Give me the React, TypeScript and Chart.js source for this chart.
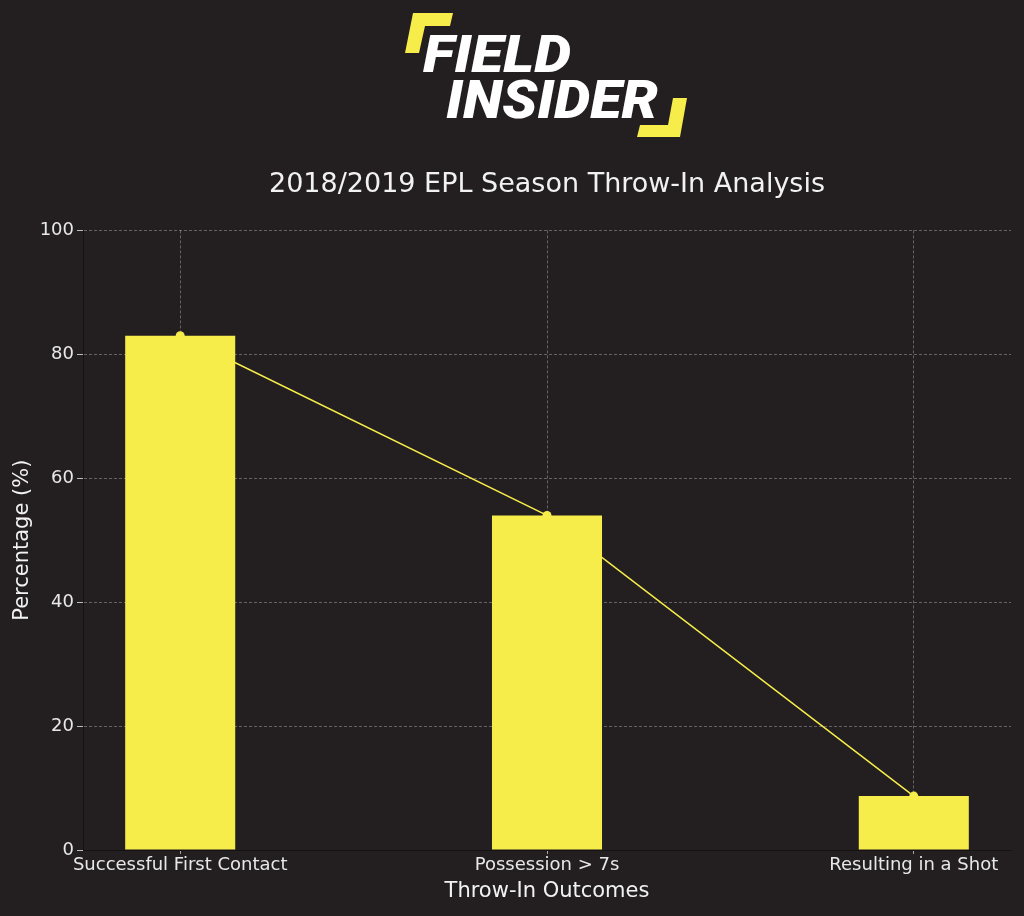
import React, { useEffect, useRef } from "react";
import { Chart, registerables } from "chart.js";

Chart.register(...registerables);

const categories = ["Successful First Contact", "Possession > 7s", "Resulting in a Shot"];
const percentages = [83, 54, 8.7];
const yTicks = [0, 20, 40, 60, 80, 100];

const BG = "#231f20";
const YELLOW = "#f6ec4a";
const FONT = "\"DejaVu Sans\"";

export default function App() {
  const canvasRef = useRef<HTMLCanvasElement | null>(null);

  useEffect(() => {
    if (!canvasRef.current) return;
    Chart.defaults.font.family = FONT;
    const points = percentages.map((v, i) => ({ x: i, y: v }));
    const chart = new Chart(canvasRef.current, {
      type: "bar",
      data: {
        datasets: [
          {
            type: "line",
            data: points,
            borderColor: YELLOW,
            backgroundColor: YELLOW,
            borderWidth: 1.5,
            pointRadius: 4.5,
            pointBorderWidth: 0,
            pointBackgroundColor: YELLOW,
            order: 0,
          } as any,
          {
            type: "bar",
            data: points,
            backgroundColor: YELLOW,
            borderWidth: 0,
            categoryPercentage: 1,
            barPercentage: 0.3,
            order: 1,
          } as any,
        ],
      },
      options: {
        animation: false,
        responsive: true,
        maintainAspectRatio: false,
        layout: { padding: { right: 13, left: 0, top: 0, bottom: 0 } },
        plugins: {
          legend: { display: false },
          tooltip: { enabled: false },
          title: {
            display: true,
            text: "2018/2019 EPL Season Throw-In Analysis",
            color: "#f2f2f2",
            fullSize: false,
            font: { family: FONT, size: 27, weight: "normal" },
            padding: { top: 19, bottom: 29 },
          } as any,
        },
        scales: {
          x: {
            type: "linear",
            min: -0.265,
            max: 2.265,
            offset: false,
            z: 1,
            afterBuildTicks: (scale: any) => {
              scale.ticks = categories.map((_, i) => ({ value: i }));
            },
            afterFit: (scale: any) => {
              scale.height = 66;
            },
            ticks: {
              autoSkip: false,
              maxRotation: 0,
              minRotation: 0,
              color: "#e8e8e8",
              font: { family: FONT, size: 18 },
              padding: 1,
              callback: (v: any) => categories[Number(v)] ?? "",
            },
            grid: {
              offset: false,
              color: "rgba(255,255,255,0.3)",
              lineWidth: 1,
              tickLength: 4,
              tickColor: "rgba(255,255,255,0.6)",
              tickBorderDash: [],
            } as any,
            border: { display: true, color: "#141213", width: 1, dash: [3, 2] } as any,
            title: {
              display: true,
              text: "Throw-In Outcomes",
              color: "#f2f2f2",
              font: { family: FONT, size: 21 },
              padding: { top: 0, bottom: 12 },
            },
          } as any,
          y: {
            type: "linear",
            min: 0,
            max: 100,
            afterBuildTicks: (scale: any) => {
              scale.ticks = yTicks.map((v) => ({ value: v }));
            },
            afterFit: (scale: any) => {
              scale.width = 83;
            },
            ticks: {
              color: "#e8e8e8",
              font: { family: FONT, size: 18 },
              padding: 3,
            },
            grid: {
              color: "rgba(255,255,255,0.3)",
              lineWidth: 1,
              tickLength: 6,
              tickColor: "rgba(255,255,255,0.7)",
              tickBorderDash: [],
            } as any,
            border: { display: true, color: "#141213", width: 1, dash: [3, 2] } as any,
            title: {
              display: true,
              text: "Percentage (%)",
              color: "#f2f2f2",
              font: { family: FONT, size: 21 },
              padding: { top: 10, bottom: 0 },
            },
          } as any,
        },
      },
    });
    return () => chart.destroy();
  }, []);

  return (
    <div
      style={{
        position: "absolute",
        top: 0,
        left: 0,
        width: 1024,
        height: 916,
        background: BG,
        overflow: "hidden",
      }}
    >
      <svg
        width={1024}
        height={150}
        style={{ position: "absolute", top: 0, left: 0 }}
      >
        <polygon points="413,13 453,13 450,26 425,26 419,53 405,53" fill={YELLOW} />
        <polygon points="673,98 687,98 680,137 637,137 640,125 668,125" fill={YELLOW} />
        <text
          x={423}
          y={72}
          textLength={148}
          lengthAdjust="spacingAndGlyphs"
          fill="#ffffff"
          style={{ fontFamily: "Roboto, 'Liberation Sans', sans-serif", fontWeight: 900, fontStyle: "italic", fontSize: 51 }}
        >
          FIELD
        </text>
        <text
          x={446}
          y={118}
          textLength={212}
          lengthAdjust="spacingAndGlyphs"
          fill="#ffffff"
          style={{ fontFamily: "Roboto, 'Liberation Sans', sans-serif", fontWeight: 900, fontStyle: "italic", fontSize: 53 }}
        >
          INSIDER
        </text>
      </svg>
      <div style={{ position: "absolute", top: 150, left: 0, width: 1024, height: 766 }}>
        <canvas ref={canvasRef} />
      </div>
    </div>
  );
}
